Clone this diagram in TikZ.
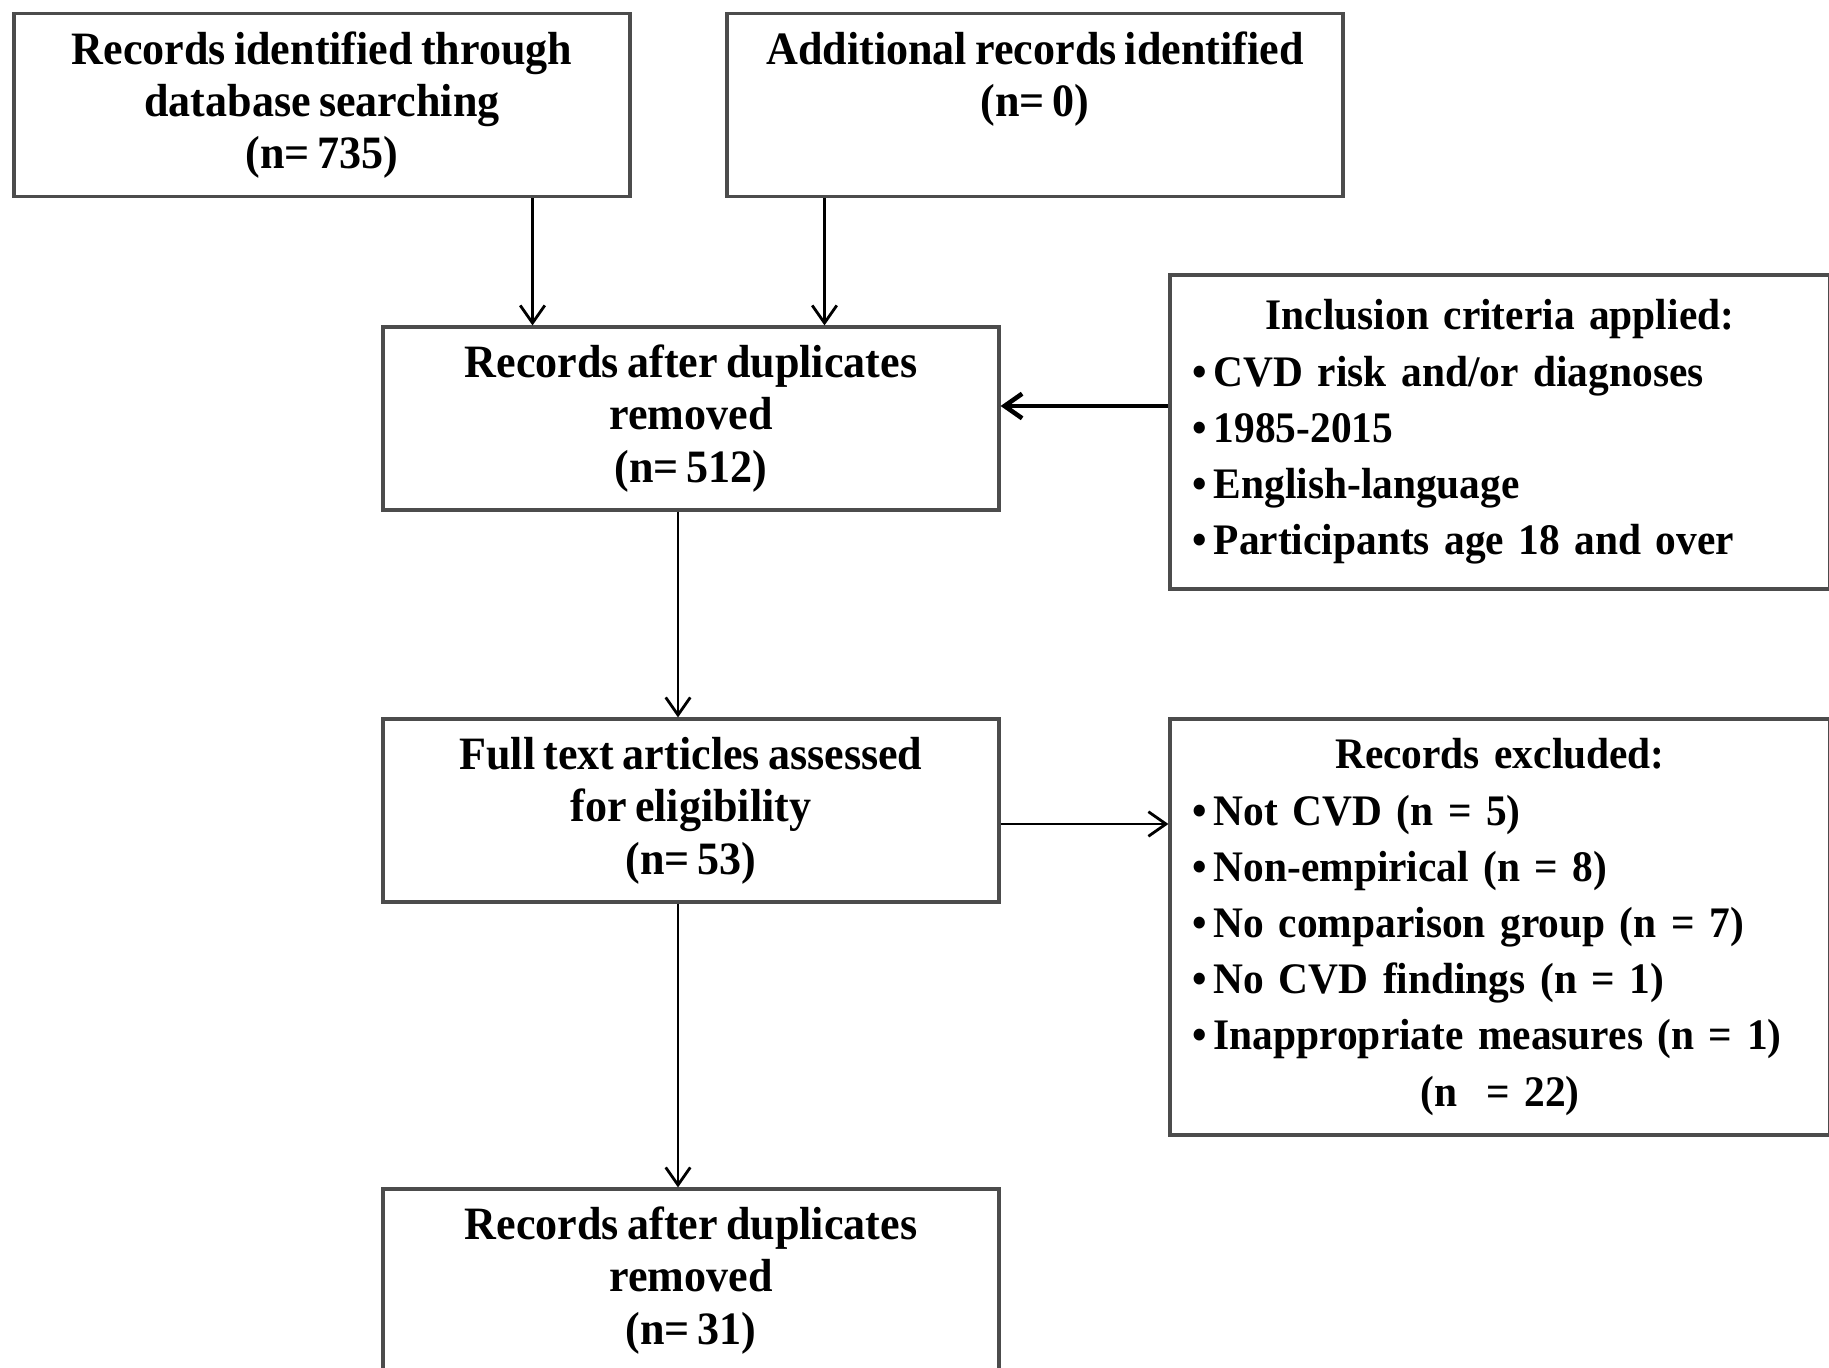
\documentclass[tikz,border=0pt]{standalone}
\usepackage{fontspec}
\setmainfont{Liberation Serif}[FakeStretch=0.95,WordSpace=0.75]
\usetikzlibrary{arrows.meta,calc}
\begin{document}
\begin{tikzpicture}[every node/.style={font=\bfseries\fontsize{13.2}{14.9}\selectfont},
  box/.style={draw=black!70, line width=0.9pt, minimum width=6.16cm, minimum height=1.83cm, align=center, inner sep=0pt},
  listbox/.style={draw=black!70, line width=0.9pt, text width=6.16cm, inner xsep=0.22cm, align=left, font=\bfseries\fontsize{12.4}{16}\selectfont},
  >={Straight Barb[length=5pt,width=7pt]}, line width=0.8pt]
\useasboundingbox (0,0) rectangle (18.29,13.67);

\node[box] (ident) at (3.22,12.62) {Records identified through\\database searching\\(n= 735)};
\node[box] (addit) at (10.35,12.62) {Additional records identified\\(n= 0)\\\phantom{(n= 0)}};
\node[box] (dupl) at (6.91,9.485) {Records after duplicates\\removed\\(n= 512)};
\node[box] (full) at (6.91,5.565) {Full text articles assessed\\for eligibility\\(n= 53)};
\node[box] (final) at (6.91,0.865) {Records after duplicates\\removed\\(n= 31)};

\node[listbox, minimum height=3.14cm] (incl) at (15.00,9.35) {{\centering Inclusion criteria applied:\par}
\mbox{\textbullet\,CVD risk and/or diagnoses}\par
\mbox{\textbullet\,1985-2015}\par
\mbox{\textbullet\,English-language}\par
\mbox{\textbullet\,Participants age 18 and over}\par};
\node[listbox, minimum height=4.16cm] (excl) at (15.00,4.40) {{\centering Records excluded:\par}
\mbox{\textbullet\,Not CVD (n = 5)}\par
\mbox{\textbullet\,Non-empirical (n = 8)}\par
\mbox{\textbullet\,No comparison group (n = 7)}\par
\mbox{\textbullet\,No CVD findings (n = 1)}\par
\mbox{\textbullet\,Inappropriate measures (n = 1)}\par
{\centering (n\ \ = 22)\par}};

\draw[->] ($(ident.south west)!0.84!(ident.south east)$) coordinate (i1) -- (i1 |- dupl.north);
\draw[->] ($(addit.south west)!0.16!(addit.south east)$) coordinate (a1) -- (a1 |- dupl.north);
\draw[<-, line width=1.3pt] ([yshift=0.125cm]dupl.east) coordinate (d1) -- (d1 -| incl.west);
\draw[->] ([xshift=-0.13cm]dupl.south) -- ([xshift=-0.13cm]full.north);
\draw[->] ([yshift=-0.135cm]full.east) coordinate (f1) -- (f1 -| excl.west);
\draw[->] ([xshift=-0.13cm]full.south) -- ([xshift=-0.13cm]final.north);

\end{tikzpicture}
\end{document}
